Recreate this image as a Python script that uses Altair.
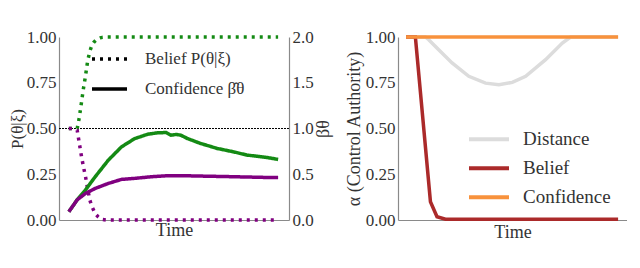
import altair as alt
import pandas as pd

# ---------------- Left panel data ----------------
goals = ["A", "B"]
belief_time = [0, 2, 4, 5, 6, 7, 8, 9, 10, 11, 12, 13, 14, 15, 16, 18, 100]
belief_a = [0.5, 0.5, 0.5, 0.56, 0.64, 0.72, 0.79, 0.87, 0.92, 0.955, 0.972, 0.983, 0.99, 0.995, 0.998, 1.0, 1.0]
belief_b = [0.5, 0.5, 0.49, 0.42, 0.35, 0.29, 0.235, 0.17, 0.11, 0.075, 0.05, 0.03, 0.018, 0.008, 0.003, 0.0, 0.0]

conf_a_time = [0, 3.9, 7.9, 12.6, 18.9, 25.2, 31.5, 37.8, 42.5, 46.5, 48.8, 51.2, 53.5, 56.7, 63, 70.9, 78.7, 85, 94.5, 100]
conf_a = [0.09, 0.218, 0.327, 0.473, 0.655, 0.8, 0.89, 0.938, 0.953, 0.956, 0.927, 0.935, 0.927, 0.89, 0.836, 0.782, 0.745, 0.71, 0.684, 0.662]
conf_b_time = [0, 3.9, 7.9, 12.6, 18.9, 25.2, 31.5, 39.4, 47.2, 55.1, 63, 78.7, 94.5, 100]
conf_b = [0.09, 0.218, 0.29, 0.345, 0.4, 0.444, 0.455, 0.473, 0.484, 0.484, 0.48, 0.473, 0.465, 0.465]

kinds = ["Belief P(θ|ξ)", "Confidence β̂θ"]
left_y_ticks = [0, 0.25, 0.5, 0.75, 1.0]
right_y_ticks = [0, 0.5, 1.0, 1.5, 2.0]

# ---------------- Right panel data ----------------
series = ["Distance", "Belief", "Confidence"]
dist_time = [0, 9.1, 10.7, 15.4, 21.7, 29.6, 37.5, 43.8, 50.1, 56.4, 65.8, 73.7, 77.6, 100]
dist_val = [1.0, 1.0, 0.985, 0.93, 0.858, 0.785, 0.748, 0.739, 0.752, 0.785, 0.876, 0.967, 1.0, 1.0]
bel_time = [0, 4.4, 11.5, 14.6, 18.6, 100]
bel_val = [1.0, 1.0, 0.1, 0.018, 0.004, 0.004]
conf_time = [0, 100]
conf_val = [1.0, 1.0]
alpha_ticks = [0, 0.25, 0.5, 0.75, 1.0]

FONT = "Liberation Serif"
TXT = "#333333"
AXC = "#8a8a8a"

# ---------- build tables ----------
rows = []
for t, a, b in zip(belief_time, belief_a, belief_b):
    rows.append({"time": t, "value": a, "goal": "A", "kind": kinds[0]})
    rows.append({"time": t, "value": b, "goal": "B", "kind": kinds[0]})
df_belief = pd.DataFrame(rows)
rows = []
for t, v in zip(conf_a_time, conf_a):
    rows.append({"time": t, "value": v, "goal": "A", "kind": kinds[1]})
for t, v in zip(conf_b_time, conf_b):
    rows.append({"time": t, "value": v, "goal": "B", "kind": kinds[1]})
df_conf = pd.DataFrame(rows)

rows = []
for t, v in zip(dist_time, dist_val):
    rows.append({"time": t, "value": v, "series": "Distance"})
for t, v in zip(bel_time, bel_val):
    rows.append({"time": t, "value": v, "series": "Belief"})
for t, v in zip(conf_time, conf_val):
    rows.append({"time": t, "value": v, "series": "Confidence"})
df_right = pd.DataFrame(rows)

# ---------- left panel ----------
x_left = alt.X("time:Q", scale=alt.Scale(domain=[-4.7, 105.2], nice=False, zero=False),
               axis=alt.Axis(title="Time", labels=False, ticks=False, titlePadding=1))
goal_color = alt.Color("goal:N", scale=alt.Scale(domain=goals, range=["#148a14", "#800080"]), legend=None)
dash = alt.StrokeDash("kind:N",
                      scale=alt.Scale(domain=kinds, range=[[3, 5], [1, 0]]),
                      legend=alt.Legend(title=None, orient="none", legendX=31, legendY=7,
                                        symbolType="stroke", symbolStrokeColor="black",
                                        symbolStrokeWidth=3.5, symbolSize=1225,
                                        labelFontSize=17, labelFont=FONT, labelColor=TXT,
                                        labelOffset=16, clipHeight=30, rowPadding=0, padding=0))

y_belief = alt.Y("value:Q", scale=alt.Scale(domain=[0, 1], nice=False),
                 axis=alt.Axis(values=left_y_ticks, format=".2f", title="P(θ|ξ)", orient="left",
                               titlePadding=0, titleFontSize=17))
rule = alt.Chart(df_belief).mark_rule(color="black", strokeWidth=1, strokeDash=[1.5, 1.5]).encode(
    y=alt.datum(0.5))
belief_lines = alt.Chart(df_belief).mark_line(strokeWidth=3.5).encode(
    x=x_left, y=y_belief, color=goal_color, strokeDash=dash)
inner = alt.layer(rule, belief_lines)

conf_lines = alt.Chart(df_conf).mark_line(strokeWidth=3.5).encode(
    x=x_left,
    y=alt.Y("value:Q", scale=alt.Scale(domain=[0, 2], nice=False),
            axis=alt.Axis(values=right_y_ticks, format=".1f", title="βθ", orient="right",
                          titleAngle=270, titleBaseline="top", titlePadding=1)),
    color=goal_color, strokeDash=dash)

left = alt.layer(inner, conf_lines).resolve_scale(y="independent").properties(width=230, height=183)

# ---------- right panel ----------
x_right = alt.X("time:Q", scale=alt.Scale(domain=[-3.8, 104.2], nice=False, zero=False),
                axis=alt.Axis(title="Time", labels=False, ticks=False, titlePadding=3))
y_right = alt.Y("value:Q", scale=alt.Scale(domain=[0, 1], nice=False),
                axis=alt.Axis(values=alpha_ticks, format=".2f", title="α (Control Authority)",
                              titlePadding=2))
ser_color = alt.Color("series:N",
                      scale=alt.Scale(domain=series, range=["#dcdcdc", "#ab2a2a", "#f8923c"]),
                      legend=alt.Legend(title=None, orient="none", legendX=69, legendY=88,
                                        symbolType="stroke", symbolStrokeWidth=4, symbolSize=1600,
                                        labelFontSize=19, labelFont=FONT, labelColor=TXT,
                                        labelOffset=12, clipHeight=28.5, rowPadding=0, padding=0))
base_r = alt.Chart(df_right)
layers_r = [
    base_r.transform_filter(alt.datum.series == s).mark_line(strokeWidth=3.5).encode(
        x=x_right, y=y_right, color=ser_color)
    for s in series
]
right = alt.layer(*layers_r).properties(width=229, height=183)

chart = alt.hconcat(left, right, spacing=12).resolve_scale(
    color="independent", strokeDash="independent"
).resolve_legend(color="independent", strokeDash="independent").properties(
    padding={"left": 0, "top": 20, "right": 0, "bottom": 0}
).configure_view(stroke=None).configure_axis(
    grid=False, domainColor=AXC, domainWidth=1.2, tickSize=0,
    labelFont=FONT, labelFontSize=17, labelColor=TXT, labelPadding=3,
    titleFont=FONT, titleFontSize=18, titleColor=TXT, titleFontWeight="normal",
)

chart.save("out.html", embed_options={"renderer": "svg", "actions": False})
